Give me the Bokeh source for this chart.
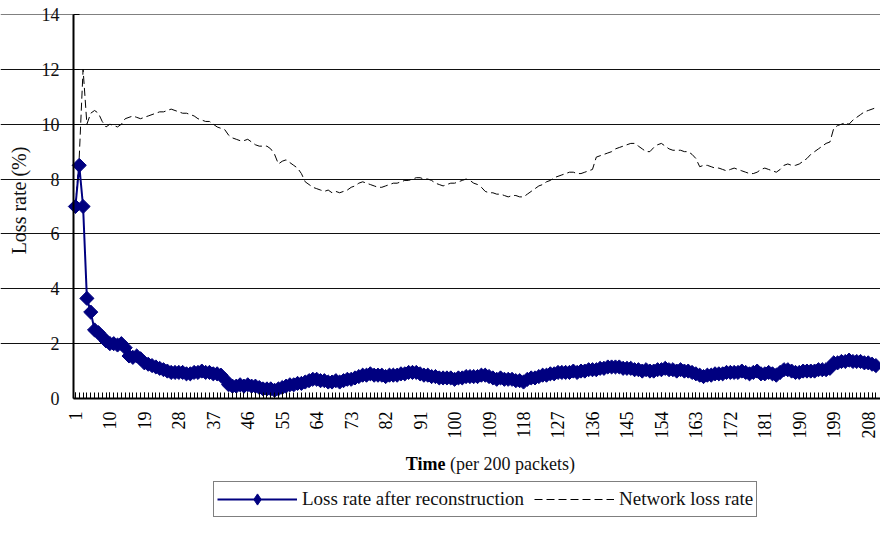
import math
import numpy as np
from bokeh.plotting import figure
from bokeh.models import (Range1d, FixedTicker, Legend, LegendItem, Label, Grid,
                          ColumnDataSource)
from bokeh.embed import file_html
from bokeh.resources import INLINE

# ---------------- data ----------------
recon_loss = [
    7.0, 8.5, 7.0, 3.65, 3.15, 2.5, 2.4, 2.25, 2.1, 2.0,
    2.0, 1.95, 2.0, 1.85, 1.55, 1.5, 1.55, 1.45, 1.3, 1.25,
    1.2, 1.15, 1.1, 1.05, 1.0, 0.95, 0.95, 0.95, 0.95, 0.9,
    0.9, 0.95, 0.95, 1.0, 0.95, 0.95, 0.9, 0.9, 0.85, 0.7,
    0.5, 0.45, 0.45, 0.5, 0.45, 0.5, 0.45, 0.45, 0.4, 0.35,
    0.35, 0.35, 0.3, 0.35, 0.4, 0.45, 0.5, 0.5, 0.55, 0.55,
    0.6, 0.65, 0.7, 0.7, 0.65, 0.65, 0.6, 0.6, 0.65, 0.6,
    0.65, 0.7, 0.7, 0.75, 0.8, 0.85, 0.85, 0.9, 0.85, 0.85,
    0.85, 0.8, 0.85, 0.85, 0.85, 0.9, 0.9, 0.95, 0.95, 0.95,
    0.9, 0.85, 0.85, 0.8, 0.8, 0.75, 0.75, 0.75, 0.75, 0.7,
    0.75, 0.75, 0.8, 0.8, 0.8, 0.8, 0.85, 0.85, 0.8, 0.75,
    0.7, 0.75, 0.7, 0.7, 0.7, 0.65, 0.65, 0.6, 0.7, 0.75,
    0.75, 0.8, 0.85, 0.85, 0.9, 0.9, 0.95, 0.95, 0.95, 0.95,
    1.0, 0.95, 1.0, 1.0, 1.05, 1.05, 1.05, 1.1, 1.1, 1.15,
    1.15, 1.15, 1.15, 1.1, 1.1, 1.1, 1.05, 1.05, 1.0, 1.05,
    1.0, 1.0, 1.05, 1.05, 1.1, 1.05, 1.05, 1.0, 1.05, 1.0,
    1.0, 0.95, 0.9, 0.85, 0.8, 0.85, 0.85, 0.9, 0.9, 0.9,
    0.95, 0.95, 0.95, 0.95, 1.0, 0.95, 0.9, 0.95, 1.0, 0.9,
    0.9, 0.95, 0.9, 0.85, 0.95, 1.05, 1.05, 1.0, 0.95, 0.95,
    1.0, 1.0, 1.0, 1.0, 1.05, 1.05, 1.05, 1.1, 1.3, 1.3,
    1.35, 1.35, 1.4, 1.35, 1.35, 1.35, 1.3, 1.3, 1.25, 1.2,
]

network_loss = [
    7.0, 8.8, 12.0, 10.0, 10.4, 10.5, 10.4, 10.1, 9.9, 10.0,
    9.95, 9.9, 10.0, 10.2, 10.25, 10.3, 10.25, 10.2, 10.25, 10.3,
    10.35, 10.4, 10.45, 10.45, 10.5, 10.55, 10.5, 10.45, 10.4, 10.4,
    10.35, 10.3, 10.2, 10.15, 10.1, 10.1, 10.0, 9.9, 9.85, 9.8,
    9.6, 9.5, 9.45, 9.4, 9.4, 9.45, 9.35, 9.25, 9.2, 9.2,
    9.2, 9.1, 8.9, 8.55, 8.65, 8.7, 8.6, 8.5, 8.4, 8.2,
    7.9, 7.8, 7.7, 7.65, 7.6, 7.55, 7.6, 7.5, 7.55, 7.5,
    7.55, 7.6, 7.7, 7.75, 7.85, 7.9, 7.85, 7.8, 7.75, 7.7,
    7.7, 7.75, 7.8, 7.85, 7.85, 7.9, 7.95, 7.95, 8.0, 8.05,
    8.05, 8.0, 8.0, 7.95, 7.85, 7.8, 7.75, 7.8, 7.85, 7.85,
    7.9, 7.95, 8.0, 7.95, 7.85, 7.8, 7.7, 7.55, 7.5, 7.5,
    7.45, 7.45, 7.4, 7.35, 7.4, 7.4, 7.35, 7.35, 7.45, 7.55,
    7.65, 7.75, 7.8, 7.9, 7.95, 8.05, 8.1, 8.15, 8.2, 8.25,
    8.25, 8.2, 8.2, 8.25, 8.3, 8.35, 8.8, 8.85, 8.9, 8.95,
    9.0, 9.1, 9.15, 9.2, 9.25, 9.3, 9.3, 9.2, 9.1, 9.0,
    9.0, 9.15, 9.25, 9.3, 9.2, 9.1, 9.05, 9.05, 9.05, 9.0,
    9.0, 8.9, 8.75, 8.45, 8.5, 8.5, 8.45, 8.4, 8.4, 8.35,
    8.3, 8.35, 8.4, 8.35, 8.3, 8.25, 8.2, 8.2, 8.25, 8.35,
    8.4, 8.35, 8.3, 8.25, 8.35, 8.5, 8.55, 8.5, 8.5, 8.55,
    8.65, 8.75, 8.9, 9.0, 9.1, 9.2, 9.3, 9.35, 9.85, 9.95,
    10.0, 10.05, 10.0, 10.15, 10.25, 10.35, 10.45, 10.5, 10.55, 10.6,
]

time_index = list(range(1, len(recon_loss) + 1))

x_tick_labels = [1, 10, 19, 28, 37, 46, 55, 64, 73, 82, 91, 100, 109, 118,
                 127, 136, 145, 154, 163, 172, 181, 190, 199, 208]
y_ticks = [0, 2, 4, 6, 8, 10, 12, 14]

series_names = ["Loss rate after reconstruction", "Network loss rate"]
x_title_bold = "Time"
x_title_rest = "(per 200 packets)"
y_title = "Loss rate (%)"

# ---------------- figure ----------------
FONT = "Liberation Serif"
W, H = 880, 518
PX_X = 3.83      # px per category
PX_Y = 27.43     # px per percent
LEFT = 73        # canvas x of the value axis (category 0.5)
ZERO = 398       # canvas y of value 0


def cx(px):      # canvas x -> category coordinate
    return 0.5 + (px - LEFT) / PX_X


def cy(py):      # canvas y -> value coordinate
    return (ZERO - py) / PX_Y


p = figure(width=W, height=H, output_backend="svg", toolbar_location=None,
           x_range=Range1d(cx(0), cx(W)), y_range=Range1d(cy(H), cy(0)),
           min_border=0, min_border_left=0, min_border_right=0,
           min_border_top=0, min_border_bottom=0, outline_line_color=None,
           background_fill_color="white", border_fill_color="white")

src = ColumnDataSource(dict(x=time_index, recon=recon_loss, net=network_loss))

net_r = p.line("x", "net", source=src, line_color="black", line_width=1,
               line_dash="8 4")
rec_line = p.line("x", "recon", source=src, line_color="#000080", line_width=2)
rec_pts = p.scatter("x", "recon", source=src, marker="square", angle=math.pi / 4,
                    size=10, fill_color="#000080", line_color="#000080")
# legend-only diamond (legend glyphs ignore marker rotation); NaN point is never drawn
legend_diamond = p.scatter(x=np.array([np.nan]), y=np.array([np.nan]),
                           marker="diamond", size=12,
                           fill_color="#000080", line_color="#000080")

# grid
x_end = cx(W) + 5
p.xgrid.grid_line_color = None
p.ygrid.ticker = FixedTicker(ticks=y_ticks[1:-1])
p.ygrid.grid_line_color = "#111111"
p.ygrid.grid_line_width = 1
p.ygrid.bounds = (0.5, x_end)
p.add_layout(Grid(dimension=1, ticker=FixedTicker(ticks=[y_ticks[-1]]),
                  grid_line_color="#808080", grid_line_width=1,
                  bounds=(0.5, x_end)))

# x axis (drawn at value 0 inside the frame)
xa = p.xaxis[0]
xa.fixed_location = 0
xa.bounds = (0.5, x_end)
xa.ticker = FixedTicker(ticks=x_tick_labels, minor_ticks=time_index)
xa.major_label_orientation = math.pi / 2
xa.major_label_text_font = FONT
xa.major_label_text_font_size = "18px"
xa.major_label_text_color = "black"
xa.major_label_standoff = 13
xa.major_tick_in = 6
xa.major_tick_out = 0
xa.minor_tick_in = 6
xa.minor_tick_out = 0
xa.major_tick_line_color = "black"
xa.minor_tick_line_color = "black"
xa.axis_line_width = 2
xa.axis_line_color = "black"

# y axis (drawn at category 0.5 inside the frame)
ya = p.yaxis[0]
ya.fixed_location = 0.5
ya.bounds = (0, 14)
ya.ticker = FixedTicker(ticks=y_ticks)
ya.major_label_text_font = FONT
ya.major_label_text_font_size = "18px"
ya.major_label_text_color = "#111111"
ya.major_label_standoff = 14
ya.major_tick_in = 6
ya.major_tick_out = 0
ya.minor_tick_line_color = None
ya.axis_line_width = 2
ya.axis_line_color = "black"

# y axis title
p.add_layout(Label(x=cx(18), y=cy(200), text=y_title, angle=math.pi / 2,
                   text_align="center", text_baseline="middle", text_font=FONT,
                   text_font_size="20px", text_color="#111111"))

# x axis title (bold "Time" + normal rest)
p.add_layout(Label(x=cx(445), y=cy(463), text=x_title_bold,
                   text_align="right", text_baseline="middle", text_font=FONT,
                   text_font_size="18px", text_font_style="bold", text_color="black"))
p.add_layout(Label(x=cx(449.5), y=cy(463), text=x_title_rest,
                   text_align="left", text_baseline="middle", text_font=FONT,
                   text_font_size="18px", text_font_style="normal", text_color="#111111"))

# legend
legend = Legend(items=[LegendItem(label=series_names[0], renderers=[rec_line, legend_diamond]),
                       LegendItem(label=series_names[1], renderers=[net_r])],
                orientation="horizontal", location=(213, 1),
                label_text_font=FONT, label_text_font_size="19px",
                label_text_color="#111111",
                glyph_width=80, glyph_height=28, label_standoff=5, spacing=10,
                padding=3, margin=0, border_line_color="black",
                border_line_width=1, background_fill_color="white",
                background_fill_alpha=1.0)
p.add_layout(legend, "center")

open("out.html", "w").write(file_html(p, INLINE))
